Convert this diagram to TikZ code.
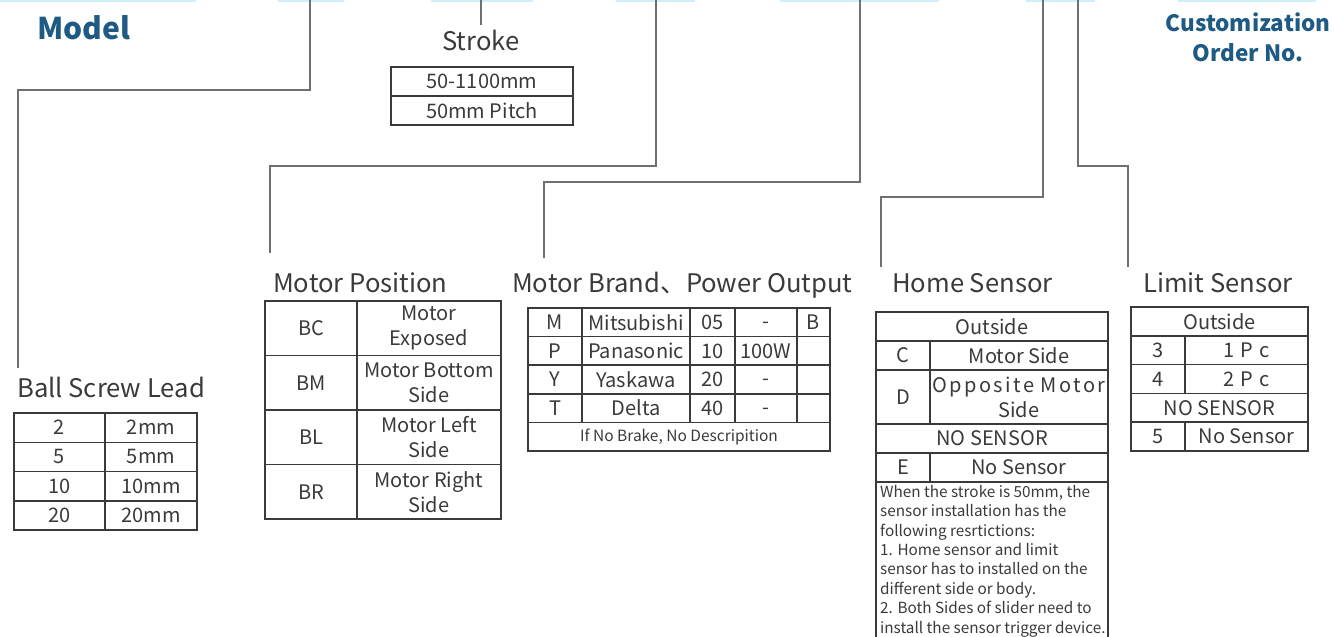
\documentclass[tikz,border=0pt]{standalone}
\usepackage{fontspec}
\setmainfont{Noto Sans CJK SC}
\definecolor{txt}{HTML}{3A3A3A}
\definecolor{ttl}{HTML}{1F5A84}
\definecolor{lead}{HTML}{707070}
\definecolor{topline}{HTML}{CFEFFB}
\newcommand{\lowdash}{\raisebox{-6pt}[0pt][0pt]{-}}
\begin{document}
\begin{tikzpicture}[x=1pt,y=-1pt,
  cell/.style 2 args={draw=txt, line width=1.5pt, minimum width=#1, minimum height=#2,
    inner sep=0pt, outer sep=0pt, anchor=north west, text=txt,
    font=\fontsize{20}{25}\selectfont, align=center},
  title/.style={anchor=base west, inner sep=0pt, text=txt, font=\fontsize{25.6}{30}\selectfont},
  brand/.style={inner sep=0pt, text=ttl, font=\fontsize{30}{36}\selectfont\bfseries},
  leader/.style={draw=lead, line width=1.3pt},
  topseg/.style={draw=topline, line width=2.5pt}
]
\useasboundingbox (0,0) rectangle (1334,637);

% light blue remnants at the top edge
\coordinate (t1a) at (0,1);    \coordinate (t1b) at (196,1);
\coordinate (t2a) at (278,1);  \coordinate (t2b) at (344,1);
\coordinate (t3a) at (431,1);  \coordinate (t3b) at (533,1);
\coordinate (t4a) at (616,1);  \coordinate (t4b) at (695,1);
\coordinate (t5a) at (780,1);  \coordinate (t5b) at (939,1);
\coordinate (t6a) at (1026,1); \coordinate (t6b) at (1095,1);
\coordinate (t7a) at (1178,1); \coordinate (t7b) at (1316,1);
\foreach \i in {1,...,7} {\draw[topseg] (t\i a) -- (t\i b);}

% headings
\node[brand, anchor=base west] (model) at (37,39) {Model};
\node[brand, anchor=north, align=center, font=\fontsize{22.5}{29.5}\selectfont\bfseries] (custom) at (1248,13) {Customization\\Order No.};

% titles
\node[title] (strokeT) at (442,50) {Stroke};
\node[title] (ballT) at (17,397) {Ball Screw Lead};
\node[title] (mposT) at (273,292) {Motor Position};
\node[title] (mbrandT) at (512,292) {Motor Brand、Power Output};
\node[title] (homeT) at (892,292) {Home Sensor};
\node[title] (limitT) at (1143,292) {Limit Sensor};

% stroke table
\node[cell={182}{29}] (st1) at (391,67) {50-1100mm};
\node[cell={182}{29}] (st2) at (391,96) {50mm Pitch};

% ball screw lead table
\foreach \a/\b [count=\r from 0] in {2/2mm,5/5mm,10/10mm,20/20mm} {
  \node[cell={91}{29.25}] (bsa\r) at (14,413+29.25*\r) {\a};
  \node[cell={92}{29.25}] (bsb\r) at (105,413+29.25*\r) {\b};
}

% motor position table
\foreach \a/\b [count=\r from 0] in {BC/Motor\\Exposed,BM/Motor Bottom\\Side,BL/Motor Left\\Side,BR/Motor Right\\Side} {
  \node[cell={92}{54.5}] (mpa\r) at (265,301+54.5*\r) {\a};
  \node[cell={144}{54.5}] (mpb\r) at (357,301+54.5*\r) {\b};
}

% motor brand table
\foreach \a/\b/\c/\d/\e [count=\r from 0] in {M/Mitsubishi/05/\lowdash/B,P/Panasonic/10/100W/{},Y/Yaskawa/20/\lowdash/{},T/Delta/40/\lowdash/{}} {
  \node[cell={54}{28.6}] (mba\r) at (528,308+28.6*\r) {\a};
  \node[cell={108}{28.6}] (mbb\r) at (582,308+28.6*\r) {\b};
  \node[cell={45}{28.6}] (mbc\r) at (690,308+28.6*\r) {\c};
  \node[cell={62}{28.6}] (mbd\r) at (735,308+28.6*\r) {\d};
  \node[cell={33}{28.6}] (mbe\r) at (797,308+28.6*\r) {\e};
}
\node[cell={302}{28.6}, font=\fontsize{15.5}{19}\selectfont] (mbnote) at (528,422.4) {If No Brake, No Descripition};

% home sensor table
\node[cell={232}{29}] (hs0) at (876,312) {Outside};
\node[cell={54}{29}] (hsCa) at (876,341) {C};
\node[cell={178}{29}] (hsCb) at (930,341) {Motor Side};
\node[cell={54}{54}] (hsDa) at (876,370) {D};
\node[cell={178}{54}] (hsDb) at (930,370) {\addfontfeature{LetterSpace=12}Opposite Motor\\Side};
\node[cell={232}{29}] (hsN) at (876,424) {NO SENSOR};
\node[cell={54}{29}] (hsEa) at (876,453) {E};
\node[cell={178}{29}] (hsEb) at (930,453) {No Sensor};
\node[cell={232}{170}] (hsNote) at (876,482) {};
\node[anchor=north west, inner sep=0pt, align=left, text=txt,
  font=\fontsize{15.3}{19.4}\selectfont] (hsNoteTxt) at (880,485)
  {When the stroke is 50mm, the\\sensor installation has the\\following resrtictions:\\1. Home sensor and limit\\sensor has to installed on the\\different side or body.\\2. Both Sides of slider need to\\install the sensor trigger device.};

% limit sensor table
\node[cell={177}{28.8}] (ls0) at (1131,307) {Outside};
\node[cell={54}{28.8}] (ls3a) at (1131,335.8) {3};
\node[cell={123}{28.8}] (ls3b) at (1185,335.8) {\addfontfeature{LetterSpace=30}1Pc};
\node[cell={54}{28.8}] (ls4a) at (1131,364.6) {4};
\node[cell={123}{28.8}] (ls4b) at (1185,364.6) {\addfontfeature{LetterSpace=30}2Pc};
\node[cell={177}{28.8}] (lsN) at (1131,393.4) {NO SENSOR};
\node[cell={54}{28.8}] (ls5a) at (1131,422.2) {5};
\node[cell={123}{28.8}] (ls5b) at (1185,422.2) {No Sensor};

% leader lines
\coordinate (mTop) at (310,0);   \coordinate (mKnee) at (18,90);   \coordinate (mEnd) at (18,368);
\coordinate (sTop) at (481,0);   \coordinate (sEnd) at (481,25);
\coordinate (pTop) at (656,0);   \coordinate (pKnee) at (270,166); \coordinate (pEnd) at (270,253);
\coordinate (bTop) at (860,0);   \coordinate (bKnee) at (544,182); \coordinate (bEnd) at (544,258);
\coordinate (hTop) at (1043,0);  \coordinate (hKnee) at (881,197); \coordinate (hEnd) at (881,267);
\coordinate (lTop) at (1078,0);  \coordinate (lKnee) at (1128,166);\coordinate (lEnd) at (1128,267);
\draw[leader] (mTop) |- (mKnee) -- (mEnd);
\draw[leader] (sTop) -- (sEnd);
\draw[leader] (pTop) |- (pKnee) -- (pEnd);
\draw[leader] (bTop) |- (bKnee) -- (bEnd);
\draw[leader] (hTop) |- (hKnee) -- (hEnd);
\draw[leader] (lTop) |- (lKnee) -- (lEnd);
\end{tikzpicture}
\end{document}
